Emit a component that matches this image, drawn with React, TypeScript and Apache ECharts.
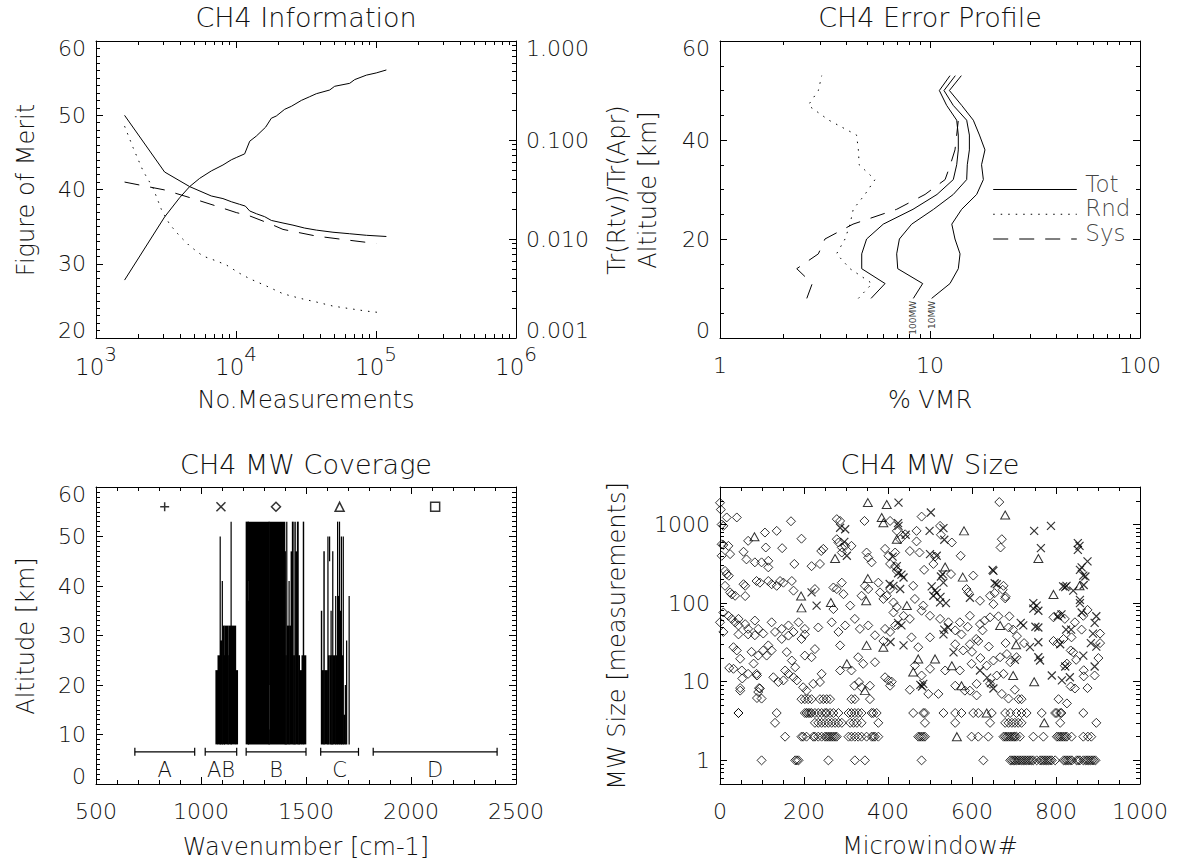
import React, { useEffect, useRef } from 'react';
import * as echarts from 'echarts';

const FONT = 'DejaVu Sans';
const INK = '#000';
const TEXT = '#111';
const WEIGHT = 200;

// ---------------- Panel 1: CH4 Information ----------------
const FOM_N = [1600, 3090, 3960, 4670, 5500, 6660, 8070, 9260, 10040, 11530, 12530, 13980, 16290, 17880, 19410, 22270, 24840, 29300, 33600, 37480, 46680, 50680, 64880, 70440, 85330, 100400, 118600];
const FOM = [27.8, 36.3, 38.9, 40.4, 41.5, 42.5, 43.3, 44.0, 44.3, 44.8, 46.5, 47.2, 48.4, 49.6, 49.9, 50.8, 51.2, 52.0, 52.5, 52.9, 53.4, 53.9, 54.3, 54.8, 55.4, 55.7, 56.1];
const TOT_N = [1600, 3090, 4670, 6660, 8070, 9260, 10610, 11660, 12530, 13980, 16030, 17880, 21660, 25530, 30910, 37480, 49300, 64880, 85330, 118600];
const TOT_R = [0.1775, 0.0475, 0.0338, 0.0272, 0.0256, 0.0238, 0.0224, 0.0215, 0.0192, 0.0180, 0.0168, 0.0154, 0.0145, 0.0138, 0.0129, 0.0123, 0.0117, 0.0113, 0.0109, 0.0106];
const RND_N = [1600, 1840, 2170, 2550, 2930, 3360, 3960, 4670, 5800, 7250, 8540, 10610, 12530, 16490, 21660, 28510, 37480, 49300, 64880, 85330, 109200];
const RND_R = [0.138, 0.0837, 0.0486, 0.0330, 0.0199, 0.01406, 0.01072, 0.0085, 0.00673, 0.0060, 0.00546, 0.0045, 0.00397, 0.00335, 0.0028, 0.00252, 0.00231, 0.0021, 0.00198, 0.00187, 0.0018];
const SYS_N = [1600, 3090, 4670, 7250, 10040, 12530, 17380, 21660, 37480, 64880, 100400];
const SYS_R = [0.0376, 0.0313, 0.0262, 0.0215, 0.0185, 0.0171, 0.0143, 0.0125, 0.0107, 0.0097, 0.0090];

// ---------------- Panel 2: CH4 Error Profile ----------------
const ALT = [8, 11, 14, 17, 20, 23, 26, 29, 32, 35, 38, 41, 44, 47, 50, 53];
const TOT_ALL = [5.24, 6.11, 4.73, 4.73, 4.99, 5.99, 8.3, 10.8, 12.91, 13.4, 13.64, 13.64, 13.4, 12.0, 11.08, 12.45];
const TOT_100MW = [8.33, 9.23, 7.02, 6.94, 7.15, 8.18, 10.4, 12.91, 14.95, 15.05, 15.4, 15.4, 14.95, 12.9, 11.66, 13.2];
const TOT_10MW = [10.18, 12.45, 13.64, 13.9, 13.15, 12.7, 14.15, 16.68, 17.95, 17.6, 18.27, 17.2, 16.08, 14.15, 12.37, 14.1];
const RND_P = [4.56, 5.3, 4.16, 3.59, 3.94, 4.16, 4.31, 4.9, 5.47, 4.6, 4.56, 4.47, 3.3, 2.63, 2.94, 3.05];
const SYS_ALT = [8, 11, 14, 17, 20, 23, 26, 29, 32, 35, 38, 41, 44];
const SYS_P = [2.59, 2.75, 2.32, 2.94, 3.16, 4.3, 6.94, 9.47, 11.8, 12.5, 13.15, 13.4, 13.64];
const LEGEND_NAMES = ['Tot', 'Rnd', 'Sys'];
const LEGEND_ALT = [30, 25, 20];
const LEGEND_X = [20, 50];

// ---------------- Panel 3: CH4 MW Coverage ----------------
// [wavenumber start, wavenumber end, altitude bottom, altitude top]
const AB_BLOCKS = [
  [1070, 1080, 8, 23], [1080, 1090, 8, 26], [1090, 1092, 8, 50], [1092, 1100, 8, 29], [1100, 1103, 8, 41],
  [1103, 1110, 8, 32], [1110, 1112, 8, 26], [1112, 1128, 8, 32], [1128, 1131, 8, 26], [1131, 1142, 8, 32],
  [1142, 1144, 8, 53], [1144, 1166, 8, 32], [1166, 1175, 8, 23],
];
const B_BLOCKS = [
  [1214, 1224, 8, 53], [1224, 1226, 8, 37], [1224, 1226, 41, 53], [1226, 1323, 8, 53], [1323, 1326, 8, 11],
  [1323, 1326, 20, 53], [1326, 1400, 8, 53], [1400, 1403, 8, 47], [1403, 1407, 8, 26], [1407, 1410, 8, 53],
  [1410, 1418, 8, 32], [1418, 1421, 8, 41], [1421, 1428, 8, 32], [1428, 1434, 8, 47], [1434, 1440, 8, 53],
  [1440, 1446, 8, 26], [1446, 1450, 8, 53], [1450, 1458, 8, 47], [1458, 1464, 8, 53], [1464, 1470, 8, 26],
  [1470, 1480, 8, 23], [1480, 1486, 8, 26], [1486, 1490, 8, 53], [1490, 1500, 8, 26],
];
const C_BLOCKS = [
  [1572, 1576, 8, 35], [1576, 1584, 8, 23], [1584, 1588, 8, 47], [1588, 1603, 8, 23], [1603, 1606, 8, 50],
  [1606, 1611, 8, 26], [1611, 1613, 45, 50], [1613, 1618, 8, 26], [1618, 1621, 8, 35], [1621, 1626, 8, 26],
  [1626, 1629, 8, 47], [1629, 1640, 8, 26], [1640, 1643, 8, 38], [1643, 1649, 8, 26], [1649, 1652, 8, 53],
  [1652, 1658, 8, 38], [1658, 1661, 8, 53], [1661, 1667, 8, 35], [1667, 1670, 8, 50], [1670, 1676, 8, 26],
  [1676, 1679, 8, 50], [1679, 1686, 8, 14], [1686, 1688, 8, 20], [1692, 1695, 8, 29], [1704, 1707, 8, 38],
];
const BAND_NAMES = ['A', 'AB', 'B', 'C', 'D'];
const BAND_START = [685, 1020, 1215, 1570, 1820];
const BAND_END = [970, 1170, 1500, 1750, 2410];
const BAND_MARK_X = [827, 1095, 1357, 1660, 2115];
const BRACKET_ALT = 6.5;
const BAND_LABEL_ALT = 2.8;
const MARKER_ALT = 56;

// ---------------- Panel 4: CH4 MW Size ----------------
const DIAMONDS = [
  [0, 1890], [2, 1550], [4, 1000], [8, 960], [16, 1230], [40, 1230], [4, 560], [8, 550], [4, 400], [20, 535], [24, 420], [67, 620], [107, 790], [135, 830], [169, 1100], [194, 660], [109, 510], [148, 500], [56, 450], [63, 360], [83, 330], [99, 330], [115, 345], [115, 285], [177, 315], [218, 295], [238, 315], [241, 460], [246, 490], [278, 1170], [286, 1110], [344, 1110], [405, 1110], [278, 650], [282, 590], [290, 510], [298, 535], [290, 440], [313, 535], [349, 440], [353, 380], [361, 330], [393, 490], [401, 400], [405, 315], [417, 295], [421, 257],
  [12, 257], [16, 234], [21, 223], [12, 166], [24, 137], [28, 129], [36, 124], [56, 174], [60, 166], [60, 123], [87, 191], [95, 182], [115, 191], [123, 174], [135, 166], [143, 191], [151, 182], [171, 191], [175, 144], [226, 151], [270, 158], [278, 151], [290, 182], [270, 84], [294, 130], [310, 93], [337, 124], [345, 166], [353, 151], [377, 182], [381, 137], [389, 113], [397, 124], [405, 151], [413, 102], [421, 89],
  [8, 76], [20, 69], [28, 63], [36, 57], [44, 52], [0, 57], [8, 43], [44, 63], [60, 54], [67, 47], [83, 60], [91, 47], [103, 41], [123, 57], [131, 43], [147, 47], [163, 52], [175, 43], [187, 57], [202, 47], [234, 49], [266, 57], [282, 43], [298, 52], [321, 63], [333, 47], [353, 52], [369, 39], [393, 47], [405, 43], [417, 52],
  [32, 27.5], [40, 25], [48, 19.6], [44, 40], [67, 40], [83, 39], [75, 24], [91, 21.5], [103, 25], [115, 29], [111, 21.5], [123, 25], [52, 13.9], [48, 7.7], [32, 14.6], [67, 12.6], [87, 12.6], [91, 7.4], [99, 6.1], [95, 8.2], [127, 11.4], [139, 9.9], [151, 10.4], [155, 13.9], [163, 12.6], [175, 11.4], [183, 10.4], [159, 23.8], [171, 18.6], [179, 15.3], [147, 35], [163, 38.6], [194, 35], [202, 40], [202, 21.5], [218, 20.5], [226, 26], [198, 8.5], [206, 7.7], [222, 9.4], [238, 9.9], [242, 12.6], [286, 13.9], [286, 29], [320, 8.9], [331, 9.9], [337, 8.5], [357, 8.9], [313, 13.9], [329, 20.5], [341, 16.9], [369, 17.7], [389, 33], [393, 11.4], [401, 10.4], [405, 8.9],
  [22, 15], [53, 11], [48, 8.3], [44, 4], [88, 6.2], [93, 8.3], [80, 17], [88, 12],
  [480, 1260], [441, 750], [468, 830], [524, 960], [665, 1930], [671, 650], [668, 510], [421, 830], [429, 650], [417, 440], [452, 460], [475, 440], [508, 315], [552, 590], [573, 400], [603, 224], [550, 234], [675, 166], [587, 151], [591, 137], [619, 107], [643, 124], [651, 97], [679, 115], [460, 166], [464, 113], [484, 93], [413, 76], [437, 69], [452, 63], [480, 80], [500, 69], [524, 63], [544, 57], [571, 57], [595, 69], [619, 54], [643, 66], [687, 49], [794, 66], [821, 63], [845, 57], [865, 69],
  [456, 36.7], [472, 27.5], [500, 36.7], [464, 16.1], [500, 14.6], [536, 13.9], [571, 13.9], [480, 12], [579, 25], [595, 30], [615, 33], [599, 16.9], [635, 16], [651, 18.6], [667, 20.5], [683, 22.5], [691, 17.7], [706, 20.5], [659, 12], [675, 12.6], [643, 9.4], [611, 9.4], [595, 7.7], [583, 7.7], [409, 10], [452, 7.9], [496, 7], [520, 7], [560, 8.9], [611, 6.7], [671, 7], [687, 6.1], [702, 7.9], [821, 16], [845, 8.2], [841, 23.7], [794, 33], [818, 35], [837, 36.7],
  [673, 148], [654, 134], [680, 121], [689, 68], [698, 46], [707, 38], [724, 31], [680, 31], [663, 68],
  [808, 71], [804, 31], [826, 17], [835, 25], [848, 19], [866, 14], [861, 46], [875, 82], [905, 41], [905, 31], [901, 20], [892, 12], [875, 8.3], [866, 11.7], [835, 8.7], [826, 5.3], [813, 4],
  [486, 265], [512, 390], [468, 610], [526, 740], [560, 45], [575, 40], [590, 50], [610, 35], [625, 45], [630, 60], [640, 28], [560, 30], [600, 24], [620, 20],
];
const ROW6_X = [194, 202, 210, 218, 238, 246, 254, 262, 313, 321, 357, 711, 718, 806];
const ROW4_X = [44, 135, 202, 206, 210, 214, 218, 226, 234, 242, 250, 254, 262, 270, 282, 306, 313, 321, 329, 337, 361, 365, 373, 460, 484, 488, 532, 560, 575, 603, 615, 647, 679, 691, 706, 718, 730, 766, 798, 802, 810, 865];
const ROW3_X = [131, 226, 234, 242, 250, 258, 266, 274, 282, 290, 310, 318, 326, 337, 377, 488, 560, 643, 679, 687, 695, 702, 710, 718, 810, 896];
const ROW2_X = [155, 194, 198, 206, 222, 226, 234, 242, 250, 254, 258, 262, 266, 270, 274, 278, 306, 313, 321, 329, 337, 349, 361, 365, 369, 377, 472, 476, 480, 484, 488, 599, 615, 639, 675, 679, 683, 687, 691, 695, 699, 702, 706, 714, 746, 770, 802, 806, 810, 814, 818, 822, 826, 837, 865, 876, 884];
const ROW1_X = [99, 179, 183, 187, 258, 321, 345, 480, 627, 691, 695, 699, 702, 706, 710, 714, 718, 722, 726, 730, 734, 738, 742, 746, 754, 762, 766, 770, 774, 778, 782, 786, 790, 798, 818, 822, 826, 830, 834, 838, 849, 853, 857, 865, 870, 874, 878, 882, 886, 890, 894];
const CROSSES = [
  [425, 1900], [502, 1420], [425, 960], [499, 830], [532, 900], [748, 830], [788, 960], [764, 500], [856, 535], [861, 285], [865, 224], [825, 166], [841, 144], [861, 76], [500, 420], [516, 400], [530, 234], [532, 182], [651, 257], [659, 174], [595, 117], [437, 212], [421, 295], [413, 166], [429, 151], [508, 124], [524, 102], [722, 52], [754, 93], [758, 80], [758, 49],
  [437, 29], [532, 40], [556, 23.6], [484, 9.4], [619, 13.9], [651, 8.2], [738, 27.5], [758, 31.8], [762, 18.6], [758, 20.5], [790, 12], [814, 10.4], [833, 11.4], [865, 21.5], [810, 30],
  [746, 100], [746, 85], [751, 50], [804, 68], [813, 72], [824, 46], [836, 46], [817, 163], [822, 160], [822, 15.6],
  [852, 475], [852, 580], [857, 265], [875, 340], [870, 218], [866, 170], [857, 110], [857, 100], [896, 68], [892, 56], [888, 41], [883, 31], [896, 28], [892, 15.6],
  [286, 910], [298, 870], [296, 600], [302, 400], [218, 137], [230, 93],
  [424, 1040], [442, 740], [411, 390], [424, 240], [432, 230], [404, 175], [424, 56], [432, 52], [406, 32],
  [504, 163], [512, 145], [516, 135], [525, 120], [538, 100], [534, 46], [543, 49], [534, 640], [526, 218], [477, 9.1], [481, 8.7],
  [649, 265], [654, 179], [645, 9.6], [636, 11.3], [716, 56], [702, 19],
];
const TRIANGLES = [
  [82, 700], [352, 1900], [397, 1800], [385, 1230], [389, 1050], [421, 650], [274, 370], [352, 205], [193, 123], [194, 87], [264, 102], [348, 107],
  [345, 7.7], [302, 16.9], [349, 29], [389, 27.5],
  [581, 830], [679, 1320], [758, 370], [794, 129], [856, 166], [578, 214], [536, 288], [445, 93], [667, 52],
  [472, 19.5], [512, 19.5], [552, 16], [460, 13.3], [575, 8.9], [698, 12], [748, 10], [635, 4], [772, 3], [564, 2], [705, 29.6],
];

// ---------------- helpers ----------------
const SYM_PLUS = 'path://M5,0L5,10M0,5L10,5';
const SYM_CROSS = 'path://M0,0L10,10M10,0L0,10';
const SYM_DIAMOND = 'path://M5,0L10,5L5,10L0,5Z';
const SYM_TRI = 'path://M5,0L10,9L0,9Z';
const SYM_SQUARE = 'path://M0,0L10,0L10,10L0,10Z';
const BAND_SYMBOLS = [SYM_PLUS, SYM_CROSS, SYM_DIAMOND, SYM_TRI, SYM_SQUARE];

function zip(xs: number[], ys: number[]) {
  return xs.map((x, i) => [x, ys[i]]);
}

function logMinors(e0: number, e1: number, lo: number, hi: number) {
  const out: number[] = [];
  for (let e = e0; e < e1; e++) {
    for (let m = 2; m <= 9; m++) {
      const v = +(m * Math.pow(10, e)).toPrecision(3);
      if (v > lo && v < hi) out.push(v);
    }
  }
  return out;
}

const plainFmt = (v: number) => String(Math.round(v * 1000) / 1000);

function mainAxis(o: any) {
  const isY = o.position === 'left' || o.position === 'right';
  const label: any = o.labels
    ? {
        show: true,
        color: TEXT,
        fontFamily: FONT,
        fontWeight: WEIGHT,
        fontSize: 22,
        margin: o.margin ?? 10,
        formatter: o.formatter || plainFmt,
        rich: o.rich,
        showMinLabel: !o.hideEnds,
        showMaxLabel: !o.hideEnds,
      }
    : { show: false };
  if (o.labels && isY) {
    label.lineHeight = 15;
    label.verticalAlignMinLabel = 'bottom';
    label.verticalAlignMaxLabel = 'top';
  }
  const ax: any = {
    type: o.type,
    gridIndex: o.grid,
    position: o.position,
    min: o.min,
    max: o.max,
    silent: true,
    axisLine: { show: true, onZero: false, lineStyle: { color: INK, width: 1 } },
    axisTick: { show: true, inside: true, length: 7, lineStyle: { color: INK, width: 1 } },
    splitLine: { show: false },
    axisPointer: { show: false },
    axisLabel: label,
  };
  if (o.interval !== undefined) ax.interval = o.interval;
  if (o.minor) ax.minorTick = { show: true, splitNumber: o.minor, length: 4, lineStyle: { color: INK, width: 1 } };
  if (o.type === 'log') ax.logBase = 10;
  return ax;
}

function minorAxis(grid: number, position: string, min: number, max: number, values: number[]) {
  return {
    type: 'log',
    logBase: 10,
    gridIndex: grid,
    position,
    min,
    max,
    silent: true,
    axisLine: { show: false, onZero: false },
    axisTick: { show: true, inside: true, length: 4, customValues: values, lineStyle: { color: INK, width: 1 } },
    axisLabel: { show: false },
    splitLine: { show: false },
    axisPointer: { show: false },
  };
}

function lineSeries(xi: number, yi: number, data: number[][], dash?: number[]) {
  return {
    type: 'line',
    xAxisIndex: xi,
    yAxisIndex: yi,
    data,
    showSymbol: false,
    symbol: 'none',
    silent: true,
    lineStyle: { color: INK, width: 1, type: dash || 'solid' },
  };
}

function txt(text: string, x: number, y: number, size: number, rotate = false) {
  return {
    type: 'text',
    x,
    y,
    rotation: rotate ? Math.PI / 2 : 0,
    silent: true,
    style: {
      text,
      fill: TEXT,
      font: `${WEIGHT} ${size}px "${FONT}"`,
      textAlign: 'center',
      textVerticalAlign: 'middle',
      align: 'center',
      verticalAlign: 'middle',
    },
  };
}

function buildOption(): any {
  const powFmt = (v: number) => `{b|10}{s|${Math.round(Math.log10(v))}}`;
  const powRich = {
    b: { fontSize: 23, fontFamily: FONT, fontWeight: WEIGHT, color: TEXT, verticalAlign: 'bottom', lineHeight: 34 },
    s: { fontSize: 20, fontFamily: FONT, fontWeight: WEIGHT, color: TEXT, verticalAlign: 'top' },
  };
  const TL_X_MIN = logMinors(3, 6, 1e3, 1e6);
  const TL_R_MIN = logMinors(-3, 0, 0.001, 1);
  const TR_X_MIN = logMinors(0, 2, 1, 100);
  const BR_Y_MIN = logMinors(-1, 4, 0.5, 3000);

  const xAxis = [
    mainAxis({ grid: 0, position: 'bottom', type: 'log', min: 1e3, max: 1e6, labels: true, margin: 6, formatter: powFmt, rich: powRich }),
    minorAxis(0, 'bottom', 1e3, 1e6, TL_X_MIN),
    mainAxis({ grid: 0, position: 'top', type: 'log', min: 1e3, max: 1e6 }),
    minorAxis(0, 'top', 1e3, 1e6, TL_X_MIN),
    mainAxis({ grid: 1, position: 'bottom', type: 'log', min: 1, max: 100, labels: true, margin: 16 }),
    minorAxis(1, 'bottom', 1, 100, TR_X_MIN),
    mainAxis({ grid: 1, position: 'top', type: 'log', min: 1, max: 100 }),
    minorAxis(1, 'top', 1, 100, TR_X_MIN),
    mainAxis({ grid: 2, position: 'bottom', type: 'value', min: 500, max: 2500, interval: 500, minor: 5, labels: true, margin: 16 }),
    mainAxis({ grid: 2, position: 'top', type: 'value', min: 500, max: 2500, interval: 500, minor: 5 }),
    mainAxis({ grid: 3, position: 'bottom', type: 'value', min: 0, max: 1000, interval: 200, minor: 4, labels: true, margin: 16 }),
    mainAxis({ grid: 3, position: 'top', type: 'value', min: 0, max: 1000, interval: 200, minor: 4 }),
  ];
  const yAxis = [
    mainAxis({ grid: 0, position: 'left', type: 'value', min: 20, max: 60, interval: 10, minor: 10, labels: true, margin: 10 }),
    mainAxis({ grid: 0, position: 'right', type: 'log', min: 0.001, max: 1, labels: true, margin: 10, formatter: (v: number) => v.toFixed(3) }),
    minorAxis(0, 'right', 0.001, 1, TL_R_MIN),
    mainAxis({ grid: 1, position: 'left', type: 'value', min: 0, max: 60, interval: 20, minor: 4, labels: true, margin: 10 }),
    mainAxis({ grid: 1, position: 'right', type: 'value', min: 0, max: 60, interval: 20, minor: 4 }),
    mainAxis({ grid: 2, position: 'left', type: 'value', min: 0, max: 60, interval: 10, minor: 10, labels: true, margin: 10 }),
    mainAxis({ grid: 2, position: 'right', type: 'value', min: 0, max: 60, interval: 10, minor: 10 }),
    mainAxis({ grid: 3, position: 'left', type: 'log', min: 0.5, max: 3000, labels: true, margin: 10, hideEnds: true }),
    minorAxis(3, 'left', 0.5, 3000, BR_Y_MIN),
    mainAxis({ grid: 3, position: 'right', type: 'log', min: 0.5, max: 3000 }),
    minorAxis(3, 'right', 0.5, 3000, BR_Y_MIN),
  ];

  const markerStyle = { color: 'rgba(0,0,0,0)', borderColor: INK, borderWidth: 1 };
  const coverage = [...AB_BLOCKS, ...B_BLOCKS, ...C_BLOCKS];

  const series: any[] = [
    // Panel 1
    lineSeries(0, 0, zip(FOM_N, FOM)),
    lineSeries(0, 1, zip(TOT_N, TOT_R)),
    lineSeries(0, 1, zip(RND_N, RND_R), [1.5, 6]),
    lineSeries(0, 1, zip(SYS_N, SYS_R), [15, 11]),
    // Panel 2
    lineSeries(4, 3, zip(TOT_ALL, ALT)),
    lineSeries(4, 3, zip(TOT_100MW, ALT)),
    lineSeries(4, 3, zip(TOT_10MW, ALT)),
    lineSeries(4, 3, zip(RND_P, ALT), [1.5, 6]),
    lineSeries(4, 3, zip(SYS_P, SYS_ALT), [15, 11]),
    lineSeries(4, 3, LEGEND_X.map((x) => [x, LEGEND_ALT[0]])),
    lineSeries(4, 3, LEGEND_X.map((x) => [x, LEGEND_ALT[1]]), [1.5, 6]),
    lineSeries(4, 3, LEGEND_X.map((x) => [x, LEGEND_ALT[2]]), [15, 11]),
    {
      type: 'scatter',
      xAxisIndex: 4,
      yAxisIndex: 3,
      silent: true,
      symbolSize: 1,
      itemStyle: { color: 'rgba(0,0,0,0)' },
      data: LEGEND_ALT.map((a, i) => ({ value: [LEGEND_X[1], a], label: { formatter: LEGEND_NAMES[i] } })),
      label: { show: true, position: 'right', distance: 8, offset: [0, -6], color: TEXT, fontFamily: FONT, fontWeight: WEIGHT, fontSize: 23 },
    },
    {
      type: 'scatter',
      xAxisIndex: 4,
      yAxisIndex: 3,
      silent: true,
      symbolSize: 1,
      itemStyle: { color: 'rgba(0,0,0,0)' },
      data: [
        { value: [TOT_100MW[0], ALT[0]], label: { formatter: '100MW' } },
        { value: [TOT_10MW[0], ALT[0]], label: { formatter: '10MW' } },
      ],
      label: { show: true, position: 'bottom', distance: 2, rotate: 90, align: 'right', verticalAlign: 'middle', color: INK, fontFamily: FONT, fontSize: 9 },
    },
    // Panel 3
    {
      type: 'custom',
      xAxisIndex: 8,
      yAxisIndex: 5,
      silent: true,
      data: coverage,
      encode: { x: [0, 1], y: [2, 3] },
      renderItem: (params: any, api: any) => {
        const p1 = api.coord([api.value(0), api.value(3)]);
        const p2 = api.coord([api.value(1), api.value(2)]);
        return {
          type: 'rect',
          shape: { x: p1[0] - 0.3, y: p1[1], width: Math.max(p2[0] - p1[0] + 0.6, 1.2), height: p2[1] - p1[1] },
          style: { fill: INK },
        };
      },
    },
    {
      type: 'custom',
      xAxisIndex: 8,
      yAxisIndex: 5,
      silent: true,
      data: BAND_START.map((s, i) => [s, BAND_END[i], BRACKET_ALT, BAND_LABEL_ALT]),
      encode: { x: [0, 1], y: [2, 3] },
      renderItem: (params: any, api: any) => {
        const s = api.coord([api.value(0), api.value(2)]);
        const e = api.coord([api.value(1), api.value(2)]);
        const t = api.coord([(api.value(0) + api.value(1)) / 2, api.value(3)]);
        const st = { stroke: INK, lineWidth: 1.2 };
        return {
          type: 'group',
          children: [
            { type: 'line', shape: { x1: s[0], y1: s[1], x2: e[0], y2: e[1] }, style: st },
            { type: 'line', shape: { x1: s[0], y1: s[1] - 4, x2: s[0], y2: s[1] + 4 }, style: st },
            { type: 'line', shape: { x1: e[0], y1: e[1] - 4, x2: e[0], y2: e[1] + 4 }, style: st },
            {
              type: 'text',
              style: {
                text: BAND_NAMES[params.dataIndex],
                x: t[0],
                y: t[1],
                fill: TEXT,
                font: `${WEIGHT} 21px "${FONT}"`,
                textAlign: 'center',
                textVerticalAlign: 'middle',
                align: 'center',
                verticalAlign: 'middle',
              },
            },
          ],
        };
      },
    },
    {
      type: 'scatter',
      xAxisIndex: 8,
      yAxisIndex: 5,
      silent: true,
      symbolSize: 9,
      itemStyle: { ...markerStyle, borderWidth: 1.5 },
      data: BAND_MARK_X.map((x, i) => ({ value: [x, MARKER_ALT], symbol: BAND_SYMBOLS[i] })),
    },
    // Panel 4
    {
      type: 'scatter',
      xAxisIndex: 10,
      yAxisIndex: 7,
      silent: true,
      symbol: SYM_DIAMOND,
      symbolSize: 9,
      itemStyle: markerStyle,
      data: [
        ...DIAMONDS,
        ...ROW6_X.map((x) => [x, 6]),
        ...ROW4_X.map((x) => [x, 4]),
        ...ROW3_X.map((x) => [x, 3]),
        ...ROW2_X.map((x) => [x, 2]),
        ...ROW1_X.map((x) => [x, 1]),
      ],
    },
    {
      type: 'scatter',
      xAxisIndex: 10,
      yAxisIndex: 7,
      silent: true,
      symbol: SYM_CROSS,
      symbolSize: 8,
      itemStyle: { ...markerStyle, borderWidth: 1.2 },
      data: CROSSES,
    },
    {
      type: 'scatter',
      xAxisIndex: 10,
      yAxisIndex: 7,
      silent: true,
      symbol: SYM_TRI,
      symbolSize: [9, 8],
      itemStyle: markerStyle,
      data: TRIANGLES,
    },
  ];

  return {
    animation: false,
    backgroundColor: '#fff',
    grid: [
      { left: 96, top: 41, width: 420, height: 297 },
      { left: 720, top: 41, width: 420, height: 297 },
      { left: 96, top: 487, width: 420, height: 297 },
      { left: 720, top: 487, width: 420, height: 297 },
    ],
    xAxis,
    yAxis,
    series,
    graphic: {
      elements: [
        txt('CH4 Information', 306, 17, 27),
        txt('CH4 Error Profile', 930, 17, 27),
        txt('CH4 MW Coverage', 306, 464, 27),
        txt('CH4 MW Size', 930, 464, 27),
        txt('No.Measurements', 306, 400, 24),
        txt('% VMR', 930, 400, 24),
        txt('Wavenumber [cm-1]', 306, 847, 24),
        txt('Microwindow#', 930, 846, 24),
        txt('Figure of Merit', 26, 190, 24, true),
        txt('Tr(Rtv)/Tr(Apr)', 617, 190, 24, true),
        txt('Altitude [km]', 648, 190, 24, true),
        txt('Altitude [km]', 26, 636, 24, true),
        txt('MW Size [measurements]', 617, 636, 24, true),
      ],
    },
  };
}

export default function App() {
  const ref = useRef<HTMLDivElement>(null);
  useEffect(() => {
    const chart = echarts.init(ref.current!, undefined, { renderer: 'svg' });
    chart.setOption(buildOption());
    return () => chart.dispose();
  }, []);
  return (
    <div
      ref={ref}
      style={{ position: 'absolute', left: 0, top: 0, width: 1185, height: 865, background: '#fff' }}
    />
  );
}
